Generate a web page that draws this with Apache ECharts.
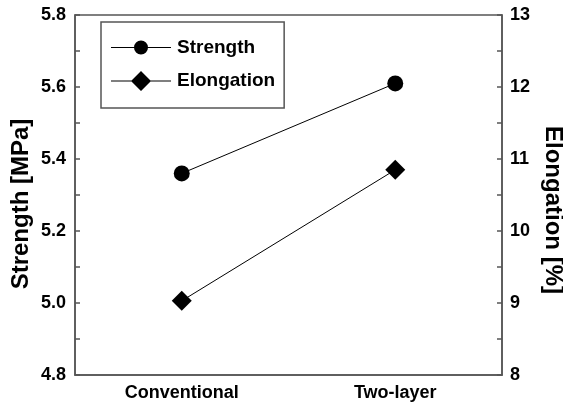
<!DOCTYPE html>
<html>
<head>
<meta charset="utf-8">
<script src="https://cdn.jsdelivr.net/npm/echarts@6/dist/echarts.min.js"></script>
<style>html,body{margin:0;padding:0;background:#fff}#c{width:563px;height:405px}</style>
</head>
<body>
<div id="c"></div>
<script>
var categories = ['Conventional', 'Two-layer'];
var strength = [5.36, 5.61];
var elongation = [9.03, 10.85];
var leftAxisRange = [4.8, 5.8, 0.2];
var rightAxisRange = [8, 13, 1];

var FONT = '"Liberation Sans", Arial, sans-serif';
var AXC = '#555';
var chart = echarts.init(document.getElementById('c'));
chart.setOption({
  animation: false,
  backgroundColor: '#fff',
  grid: { left: 75, right: 61, top: 15, bottom: 30, outerBoundsMode: 'none', containLabel: false, show: true, borderColor: AXC, borderWidth: 1.5, backgroundColor: 'transparent' },
  legend: {
    left: 101, top: 22, orient: 'vertical',
    padding: [16, 9, 17, 10],
    borderColor: AXC, borderWidth: 1.5,
    itemWidth: 60, itemHeight: 20, itemGap: 14,
    textStyle: { fontFamily: FONT, fontWeight: 'bold', fontSize: 19, color: '#000', padding: [0, 0, 0, 1] },
    data: [
      { name: 'Strength', icon: 'path://M0,9.5 H60 V10.5 H0 Z M30,3 A7,7 0 1 1 30,17 A7,7 0 1 1 30,3 Z' },
      { name: 'Elongation', icon: 'path://M0,9.5 H60 V10.5 H0 Z M30,0 L40,10 L30,20 L20,10 Z' }
    ]
  },
  xAxis: {
    type: 'category', data: categories, boundaryGap: true,
    axisLine: { lineStyle: { color: AXC, width: 1.5 } },
    axisTick: { inside: true, alignWithLabel: true, length: 7, lineStyle: { color: AXC, width: 1.5 } },
    axisLabel: { margin: 9, fontFamily: FONT, fontWeight: 'bold', fontSize: 18, color: '#000' },
    splitLine: { show: false }
  },
  yAxis: [
    {
      type: 'value', min: leftAxisRange[0], max: leftAxisRange[1], interval: leftAxisRange[2], position: 'left',
      name: 'Strength [MPa]', nameLocation: 'middle', nameGap: 42, nameRotate: 90, nameMoveOverlap: false,
      nameTextStyle: { fontFamily: FONT, fontWeight: 'bold', fontSize: 24, color: '#000', padding: [0, 18, 0, 0] },
      axisLine: { show: true, lineStyle: { color: AXC, width: 1.5 } },
      axisTick: { show: true, inside: true, length: 5, lineStyle: { color: AXC, width: 1.5 } },
      minorTick: { show: true, splitNumber: 2, length: 5, lineStyle: { color: AXC, width: 1.5 } },
      axisLabel: { margin: 9, fontFamily: FONT, fontWeight: 'bold', fontSize: 18, color: '#000', formatter: function (v) { return v.toFixed(1); } },
      splitLine: { show: false }
    },
    {
      type: 'value', min: rightAxisRange[0], max: rightAxisRange[1], interval: rightAxisRange[2], position: 'right',
      name: 'Elongation [%]', nameLocation: 'middle', nameGap: 39, nameRotate: -90, nameMoveOverlap: false,
      nameTextStyle: { fontFamily: FONT, fontWeight: 'bold', fontSize: 24, color: '#000', padding: [0, 0, 0, 30] },
      axisLine: { show: true, lineStyle: { color: AXC, width: 1.5 } },
      axisTick: { show: true, inside: true, length: 5, lineStyle: { color: AXC, width: 1.5 } },
      minorTick: { show: true, splitNumber: 2, length: 5, lineStyle: { color: AXC, width: 1.5 } },
      axisLabel: { margin: 8, fontFamily: FONT, fontWeight: 'bold', fontSize: 18, color: '#000' },
      splitLine: { show: false }
    }
  ],
  series: [
    {
      name: 'Strength', type: 'line', yAxisIndex: 0, data: strength,
      symbol: 'circle', symbolSize: 16,
      itemStyle: { color: '#000' }, lineStyle: { color: '#000', width: 1 }
    },
    {
      name: 'Elongation', type: 'line', yAxisIndex: 1, data: elongation,
      symbol: 'diamond', symbolSize: 20,
      itemStyle: { color: '#000' }, lineStyle: { color: '#000', width: 1 }
    }
  ]
});
</script>
</body>
</html>
